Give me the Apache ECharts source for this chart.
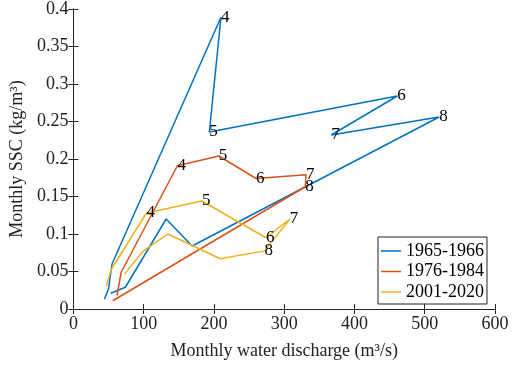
<!DOCTYPE html>
<html>
<head>
<meta charset="utf-8">
<script src="https://cdn.jsdelivr.net/npm/echarts@6/dist/echarts.min.js"></script>
<style>html,body{margin:0;padding:0;background:#fff}#c{width:512px;height:365px}</style>
</head>
<body>
<div id="c"></div>
<script>
// Data (discharge m3/s, SSC kg/m3), in monthly order as drawn
const seriesNames = ['1965-1966', '1976-1984', '2001-2020'];
const blueX = [44, 50, 55, 210, 193.5, 461, 367, 520.5, 169, 132, 74, 53];
const blueY = [0.013, 0.027, 0.060, 0.389, 0.236, 0.284, 0.232, 0.256, 0.084, 0.120, 0.029, 0.021];
const blueLabels = ['', '', '', '4', '5', '6', '7', '8', '', '', '', ''];
const orangeX = [62, 68, 148, 207, 260, 331, 330, 56];
const orangeY = [0.018, 0.049, 0.191, 0.204, 0.174, 0.179, 0.163, 0.011];
const orangeLabels = ['', '', '4', '5', '6', '7', '8', ''];
const yellowX = [47, 54, 104, 183, 274, 308, 272, 209, 134.5, 99.6, 72.6];
const yellowY = [0.031, 0.053, 0.128, 0.144, 0.095, 0.120, 0.0775, 0.067, 0.100, 0.0775, 0.0465];
const yellowLabels = ['', '', '4', '5', '6', '7', '8', '', '', '', ''];
const xTicks = [0, 100, 200, 300, 400, 500, 600];
const yTicks = [0, 0.05, 0.1, 0.15, 0.2, 0.25, 0.3, 0.35, 0.4];

const colors = ['#0072BD', '#D95319', '#EDB120'];
const FONT = 'Liberation Serif';

function mk(name, xs, ys, labels, color) {
  return {
    name: name,
    type: 'line',
    data: xs.map((x, i) => [x, ys[i]]),
    symbol: 'circle',
    symbolSize: 0,
    showSymbol: true,
    lineStyle: {color: color, width: 1.5},
    itemStyle: {color: color},
    label: {
      show: true,
      position: 'right',
      distance: 0,
      formatter: p => labels[p.dataIndex],
      color: '#000',
      fontFamily: FONT,
      fontSize: 17
    },
    animation: false
  };
}

const chart = echarts.init(document.getElementById('c'), null, {renderer: 'canvas'});
const axisCommon = {
  type: 'value',
  axisLine: {show: true, lineStyle: {color: '#222', width: 1}},
  axisTick: {show: true, inside: true, length: 5, lineStyle: {color: '#222'}},
  splitLine: {show: false}
};
chart.setOption({
  animation: false,
  grid: {left: 65, right: 17, top: 8, bottom: 55},
  xAxis: [
    Object.assign({}, axisCommon, {
      min: xTicks[0], max: xTicks[xTicks.length - 1], interval: 100,
      position: 'bottom',
      axisLabel: {color: '#222', fontFamily: FONT, fontSize: 18, margin: 6},
      name: 'Monthly water discharge (m³/s)',
      nameLocation: 'middle', nameGap: 33,
      nameTextStyle: {color: '#222', fontFamily: FONT, fontSize: 18}
    }),
    Object.assign({}, axisCommon, {
      min: xTicks[0], max: xTicks[xTicks.length - 1], interval: 100,
      position: 'top', axisLabel: {show: false}
    })
  ],
  yAxis: [
    Object.assign({}, axisCommon, {
      min: yTicks[0], max: yTicks[yTicks.length - 1], interval: 0.05,
      position: 'left',
      axisLabel: {color: '#222', fontFamily: FONT, fontSize: 18, margin: 5},
      name: 'Monthly SSC (kg/m³)',
      nameLocation: 'middle', nameGap: 42,
      nameTextStyle: {color: '#222', fontFamily: FONT, fontSize: 18}
    }),
    Object.assign({}, axisCommon, {
      min: yTicks[0], max: yTicks[yTicks.length - 1], interval: 0.05,
      position: 'right', axisLabel: {show: false}
    })
  ],
  legend: {
    orient: 'vertical',
    left: 378, top: 237,
    padding: [5, 3, 3, 3],
    icon: 'rect',
    itemWidth: 20, itemHeight: 1.5, itemGap: 2.5,
    backgroundColor: '#fff',
    borderColor: '#222', borderWidth: 1, borderRadius: 0,
    textStyle: {color: '#000', fontFamily: FONT, fontSize: 18},
    data: seriesNames
  },
  series: [
    mk(seriesNames[0], blueX, blueY, blueLabels, colors[0]),
    mk(seriesNames[1], orangeX, orangeY, orangeLabels, colors[1]),
    mk(seriesNames[2], yellowX, yellowY, yellowLabels, colors[2])
  ]
});
</script>
</body>
</html>
